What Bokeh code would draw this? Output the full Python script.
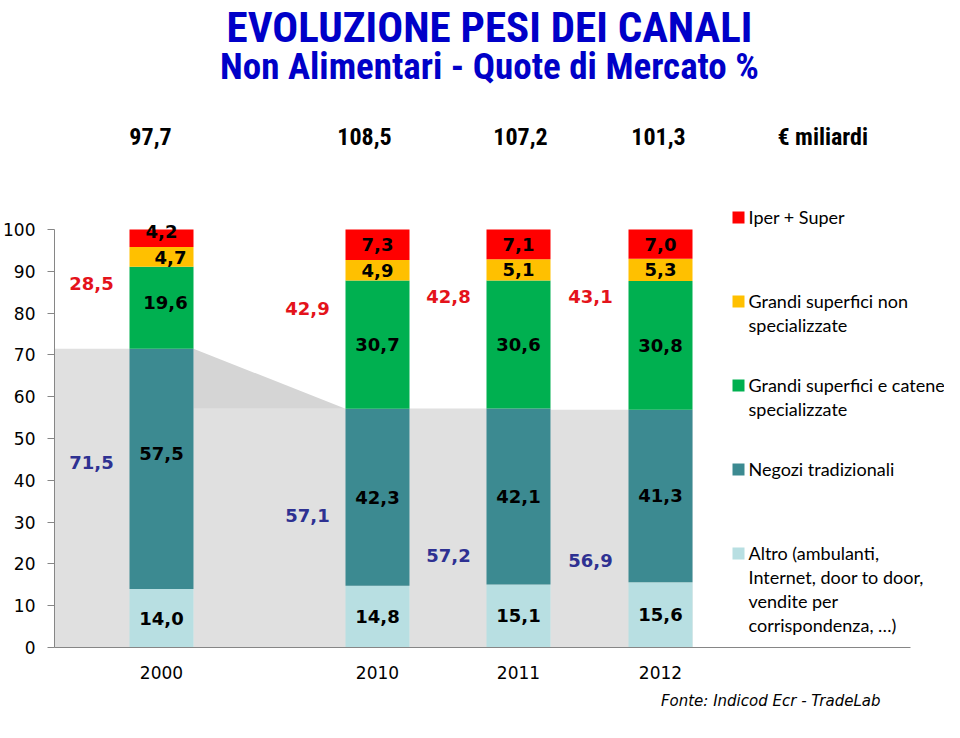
from bokeh.plotting import figure
from bokeh.models import Range1d, FixedTicker, ColumnDataSource, Title
from bokeh.embed import file_html
from bokeh.resources import INLINE
from bokeh.core.properties import value

# ---------------- data ----------------
years = ["2000", "2010", "2011", "2012"]
iper_super = [4.2, 7.3, 7.1, 7.0]
gs_non_spec = [4.7, 4.9, 5.1, 5.3]
gs_spec = [19.6, 30.7, 30.6, 30.8]
negozi_trad = [57.5, 42.3, 42.1, 41.3]
altro = [14.0, 14.8, 15.1, 15.6]
tot_moderni = [28.5, 42.9, 42.8, 43.1]
tot_tradiz = [71.5, 57.1, 57.2, 56.9]
mercato_mld = ["97,7", "108,5", "107,2", "101,3"]
y_ticks = [0, 10, 20, 30, 40, 50, 60, 70, 80, 90, 100]

series_keys = ["altro", "negozi", "gs_spec", "gs_non_spec", "iper"]
legend_order = ["iper", "gs_non_spec", "gs_spec", "negozi", "altro"]
series_labels = {
    "iper": "Iper + Super",
    "gs_non_spec": "Grandi superfici non\nspecializzate",
    "gs_spec": "Grandi superfici e catene\nspecializzate",
    "negozi": "Negozi tradizionali",
    "altro": "Altro (ambulanti,\nInternet, door to door,\nvendite per\ncorrispondenza, \u2026)",
}
series_colors = {
    "iper": "#ff0000",
    "gs_non_spec": "#ffc000",
    "gs_spec": "#00b050",
    "negozi": "#3c8a91",
    "altro": "#b8dfe2",
}

# ---------------- layout (pixels) ----------------
W, H = 944, 722
LEFT, BOTTOM = 54, 75            # frame starts at x=54, ends at y=647
FRAME_H = H - BOTTOM             # 647
PX_PER_UNIT = 4.18               # 100 % -> 418 px
AXIS_LEN = 856                   # x axis line length
xpos = [107, 323, 464, 606]      # bar centres (px from frame left)
BAR_W = 64
GAP_OFF = 70                     # totals sit left of each bar
mod_label_y = [87, 81, 84, 84]
trad_label_y = [44.3, 31.6, 22.0, 20.8]
header_x = [96, 310, 466, 604]   # market value labels
nudges = {(0, "iper"): (0, -7), (0, "gs_non_spec"): (9, 1), (0, "gs_spec"): (4, -5), (0, "negozi"): (0, -15)}

def yd(py):
    """page pixel row -> data value"""
    return (FRAME_H - py) / PX_PER_UNIT

def fmt(v):
    return f"{v:.1f}".replace(".", ",")

p = figure(width=W, height=H, x_range=Range1d(0, W - LEFT), y_range=Range1d(0, FRAME_H / PX_PER_UNIT),
           output_backend="svg", toolbar_location=None,
           min_border_left=LEFT, min_border_right=0, min_border_top=0, min_border_bottom=BOTTOM)
p.outline_line_color = None
p.grid.visible = False
p.background_fill_color = "white"
p.border_fill_color = "white"

# grey background blocks (share of traditional channels)
rights = [x + BAR_W / 2 for x in xpos]
lefts = [0] + rights[:-1]
p.quad(left=lefts, right=rights, bottom=0, top=tot_tradiz, fill_color="#e0e0e0", line_color=None)
p.patch(x=[rights[0], xpos[1] - BAR_W / 2, rights[0]],
        y=[tot_tradiz[0], tot_tradiz[1], tot_tradiz[1]],
        fill_color="#d5d5d5", line_color=None)

# stacked bars
src = ColumnDataSource(dict(x=xpos, altro=altro, negozi=negozi_trad, gs_spec=gs_spec,
                            gs_non_spec=gs_non_spec, iper=iper_super))
p.vbar_stack(series_keys, x="x", width=BAR_W, source=src,
             fill_color=[series_colors[k] for k in series_keys], line_color=None)

# segment labels
data_map = dict(altro=altro, negozi=negozi_trad, gs_spec=gs_spec, gs_non_spec=gs_non_spec, iper=iper_super)
lx, ly, lt, ox, oy = [], [], [], [], []
for i, x in enumerate(xpos):
    base = 0.0
    for k in series_keys:
        v = data_map[k][i]
        dx, dy = nudges.get((i, k), (0, 0))
        lx.append(x)
        ly.append(base + v / 2)
        lt.append(fmt(v))
        ox.append(dx)
        oy.append(dy)
        base += v
p.text(x=lx, y=ly, text=lt, x_offset=ox, y_offset=oy, text_font=value("DejaVu Sans"),
       text_font_style="bold", text_font_size="18px", text_align="center",
       text_baseline="middle", text_color="black")

# red totals (modern channels) and blue totals (traditional)
p.text(x=[x - GAP_OFF for x in xpos], y=mod_label_y, text=[fmt(v) for v in tot_moderni],
       text_font=value("DejaVu Sans"), text_font_style="bold", text_font_size="18px",
       text_align="center", text_baseline="middle", text_color="#e4131b")
p.text(x=[x - GAP_OFF for x in xpos], y=trad_label_y, text=[fmt(v) for v in tot_tradiz],
       text_font=value("DejaVu Sans"), text_font_style="bold", text_font_size="18px",
       text_align="center", text_baseline="middle", text_color="#2e3192")

# axes
p.yaxis.ticker = FixedTicker(ticks=y_ticks)
p.yaxis.bounds = (0, 100)
p.yaxis.minor_tick_line_color = None
p.yaxis.major_tick_in = 0
p.yaxis.major_tick_out = 7
p.yaxis.major_label_standoff = 12
p.yaxis.axis_line_color = "#868686"
p.yaxis.major_tick_line_color = "#868686"
p.yaxis.major_label_text_font = "DejaVu Sans"
p.yaxis.major_label_text_font_size = "17px"
p.yaxis.major_label_text_color = "black"

p.xaxis.ticker = FixedTicker(ticks=xpos)
p.xaxis.bounds = (0, AXIS_LEN)
p.xaxis.major_label_overrides = {x: y for x, y in zip(xpos, years)}
p.xaxis.minor_tick_line_color = None
p.xaxis.major_tick_line_color = None
p.xaxis.major_tick_in = 0
p.xaxis.major_tick_out = 0
p.xaxis.major_label_standoff = 18
p.xaxis.axis_line_color = "#868686"
p.xaxis.major_label_text_font = "DejaVu Sans"
p.xaxis.major_label_text_font_size = "17px"
p.xaxis.major_label_text_color = "black"

# legend (drawn by hand so that the swatch sits on the first text line)
LEG_SW_X, LEG_TX_X = 684, 694
LEG_TOP, LEG_STEP, LINE_H = 217, 84, 24
leg_y = [yd(LEG_TOP + i * LEG_STEP) for i in range(len(legend_order))]
p.scatter(x=[LEG_SW_X] * len(legend_order), y=leg_y, marker="square", size=12,
          fill_color=[series_colors[k] for k in legend_order], line_color=None)
p.text(x=[LEG_TX_X] * len(legend_order), y=[yd(LEG_TOP + i * LEG_STEP - LINE_H / 2) for i in range(len(legend_order))],
       text=[series_labels[k] for k in legend_order], text_font=value("Lato"), text_font_size="18px",
       text_line_height=1.1, text_align="left", text_baseline="top", text_color="black")

# titles & header texts
HEAD_FONT = value("Roboto Condensed")
p.text(x=[435], y=[yd(26)], text=["EVOLUZIONE PESI DEI CANALI"], text_font=HEAD_FONT,
       text_font_style="bold", text_font_size="43px", text_color="#0000c8",
       text_align="center", text_baseline="middle")
p.text(x=[435], y=[yd(66)], text=["Non Alimentari - Quote di Mercato %"], text_font=HEAD_FONT,
       text_font_style="bold", text_font_size="37px", text_color="#0000c8",
       text_align="center", text_baseline="middle")
p.text(x=header_x + [771], y=[yd(136)] * 5, text=mercato_mld + ["\u20ac  miliardi"], text_font=HEAD_FONT,
       text_font_style="bold", text_font_size="24px", text_color="black",
       text_align="center", text_baseline="middle")

# source note
p.add_layout(Title(text="Fonte: Indicod Ecr - TradeLab", align="right", offset=64, standoff=16,
                   text_font="DejaVu Sans", text_font_style="italic", text_font_size="15px",
                   text_color="black"), "below")

open("out.html", "w").write(file_html(p, INLINE))
